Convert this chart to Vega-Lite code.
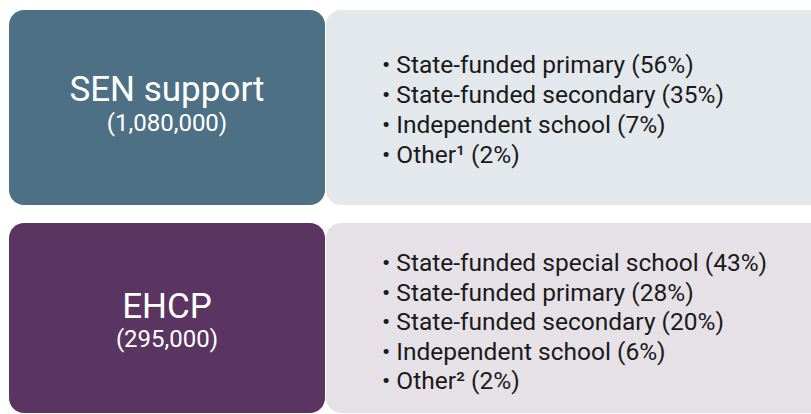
{
  "$schema": "https://vega.github.io/schema/vega-lite/v6.json",
  "width": 811,
  "height": 414,
  "autosize": {"type": "fit", "contains": "padding"},
  "padding": 0,
  "background": "#ffffff",
  "config": {"view": {"stroke": null}, "font": "Roboto"},
  "datasets": {
    "boxes": [
      {"box": "SEN support label", "x": 9, "x2": 325, "y": 10, "y2": 205},
      {"box": "SEN support list", "x": 326, "x2": 830, "y": 10, "y2": 205},
      {"box": "EHCP label", "x": 9, "x2": 325, "y": 223, "y2": 413},
      {"box": "EHCP list", "x": 326, "x2": 830, "y": 223, "y2": 413}
    ],
    "titles": [
      {"group": "SEN support", "label": "SEN support", "count": "(1,080,000)", "x": 167, "y": 101, "y_count": 131},
      {"group": "EHCP", "label": "EHCP", "count": "(295,000)", "x": 167, "y": 318, "y_count": 347}
    ],
    "items": [
      {"group": "SEN support", "item": "• State-funded primary (56%)", "x": 382, "y": 73},
      {"group": "SEN support", "item": "• State-funded secondary (35%)", "x": 382, "y": 103},
      {"group": "SEN support", "item": "• Independent school (7%)", "x": 382, "y": 133},
      {"group": "SEN support", "item": "• Other¹ (2%)", "x": 382, "y": 163},
      {"group": "EHCP", "item": "• State-funded special school (43%)", "x": 382, "y": 271},
      {"group": "EHCP", "item": "• State-funded primary (28%)", "x": 382, "y": 300.5},
      {"group": "EHCP", "item": "• State-funded secondary (20%)", "x": 382, "y": 330},
      {"group": "EHCP", "item": "• Independent school (6%)", "x": 382, "y": 359.5},
      {"group": "EHCP", "item": "• Other² (2%)", "x": 382, "y": 389}
    ]
  },
  "layer": [
    {
      "data": {"name": "boxes"},
      "mark": {"type": "rect", "cornerRadius": 15, "clip": true},
      "encoding": {
        "x": {"field": "x", "type": "quantitative", "scale": {"domain": [0, 811], "nice": false, "zero": false}, "axis": null},
        "x2": {"field": "x2"},
        "y": {"field": "y", "type": "quantitative", "scale": {"domain": [0, 414], "nice": false, "zero": false, "reverse": true}, "axis": null},
        "y2": {"field": "y2"},
        "color": {
          "field": "box", "type": "nominal", "legend": null,
          "scale": {
            "domain": ["SEN support label", "SEN support list", "EHCP label", "EHCP list"],
            "range": ["#4e7085", "#e3e8ec", "#5a3562", "#e6e1e7"]
          }
        }
      }
    },
    {
      "data": {"name": "titles"},
      "mark": {"type": "text", "font": "Roboto", "fontSize": 35, "color": "#ffffff", "align": "center", "baseline": "alphabetic"},
      "encoding": {
        "x": {"field": "x", "type": "quantitative"},
        "y": {"field": "y", "type": "quantitative"},
        "text": {"field": "label"}
      }
    },
    {
      "data": {"name": "titles"},
      "mark": {"type": "text", "font": "Roboto", "fontSize": 24, "color": "#ffffff", "align": "center", "baseline": "alphabetic"},
      "encoding": {
        "x": {"field": "x", "type": "quantitative"},
        "y": {"field": "y_count", "type": "quantitative"},
        "text": {"field": "count"}
      }
    },
    {
      "data": {"name": "items"},
      "mark": {"type": "text", "font": "Roboto", "fontSize": 24.5, "color": "#1a1a1a", "align": "left", "baseline": "alphabetic"},
      "encoding": {
        "x": {"field": "x", "type": "quantitative"},
        "y": {"field": "y", "type": "quantitative"},
        "text": {"field": "item"}
      }
    }
  ]
}
